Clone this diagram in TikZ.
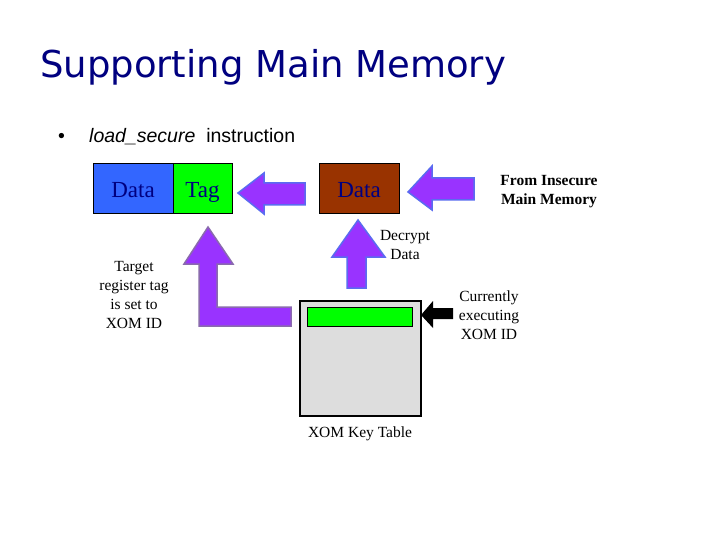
\documentclass[tikz,border=0pt]{standalone}
\usepackage{fontspec}
\setmainfont{Liberation Serif}
\newfontfamily\titlefont{DejaVu Sans}
\newfontfamily\arialfont{Liberation Sans}
\definecolor{navy}{HTML}{000080}
\definecolor{boxblue}{HTML}{3366FF}
\definecolor{boxgreen}{HTML}{00FF00}
\definecolor{boxbrown}{HTML}{993300}
\definecolor{arrpurple}{HTML}{9933FF}
\definecolor{arrborder}{HTML}{5A6CF0}
\definecolor{lborder}{HTML}{8A6AAE}
\definecolor{tablegray}{HTML}{DDDDDD}
\tikzset{
  regbox/.style={draw=black, line width=1pt, inner sep=0pt, text=navy, font=\fontsize{23}{25}\selectfont, text height=20pt, text depth=2pt},
  blockarrow/.style={fill=arrpurple, draw=arrborder, line width=1.5pt, line join=miter},
  lblock/.style={fill=arrpurple, draw=lborder, line width=1.5pt, line join=miter},
  small/.style={font=\fontsize{15.5}{19}\selectfont, align=center, inner sep=0pt},
}
\begin{document}
\begin{tikzpicture}[x=1pt,y=-1pt]
\useasboundingbox[fill=white] (0,0) rectangle (720,540);
% title
\node[anchor=base west, inner sep=0pt, text=navy, font=\titlefont\fontsize{37}{40}\selectfont] (title) at (40,78) {Supporting Main Memory};
% bullet
\node[anchor=base west, inner sep=0pt, font=\arialfont\fontsize{19.5}{21}\selectfont] (bullet) at (58,143) {\textbullet};
\node[anchor=base west, inner sep=0pt, font=\arialfont\fontsize{19.5}{21}\selectfont] (instr) at (89,143) {\textit{load\_secure}\ \ instruction};
% register
\node[regbox, fill=boxblue, minimum width=80pt, minimum height=50pt] (data1) at (133,189) {Data};
\node[regbox, fill=boxgreen, minimum width=59pt, minimum height=50pt] (tag) at (202.5,189) {Tag};
\node[regbox, fill=boxbrown, minimum width=80pt, minimum height=50pt] (data2) at (359,189) {Data};
% arrow data2 -> tag
\draw[blockarrow] (238,193) -- (264,173) -- (264,183) -- (305,183) -- (305,205) -- (264,205) -- (264,214) -- cycle;
% arrow from memory -> data2
\draw[blockarrow] (408,192) -- (432,166) -- (432,178) -- (474,178) -- (474,200) -- (432,200) -- (432,210) -- cycle;
% up arrow table -> data2
\draw[blockarrow] (358,220) -- (385,257) -- (366,257) -- (366,288) -- (347,288) -- (347,257) -- (332,257) -- cycle;
% L arrow table -> tag
\draw[lblock] (208,227) -- (233,264) -- (217,264) -- (217,307) -- (291,307) -- (291,326) -- (199,326) -- (199,264) -- (184,264) -- cycle;
% XOM key table
\node[draw=black, line width=2pt, fill=tablegray, minimum width=121pt, minimum height=115pt, inner sep=0pt] (table) at (360,358) {};
\node[draw=black, line width=1pt, fill=boxgreen, minimum width=105pt, minimum height=19pt, inner sep=0pt] (bar) at (360,316.5) {};
% black arrow
\fill[black] (421,315) -- (433,301) -- (433,308) -- (453,308) -- (453,319) -- (433,319) -- (433,328) -- cycle;
% labels
\node[small, font=\bfseries\fontsize{15.5}{19}\selectfont] (from) at (549,191.5) {From Insecure\\Main Memory};
\node[small] (decrypt) at (405,245.5) {Decrypt\\Data};
\node[small] (target) at (134,294.5) {Target\\register tag\\is set to\\XOM ID};
\node[small] (curr) at (489,315) {Currently\\executing\\XOM ID};
\node[small] (tablelbl) at (360,434) {XOM Key Table};
\end{tikzpicture}
\end{document}
